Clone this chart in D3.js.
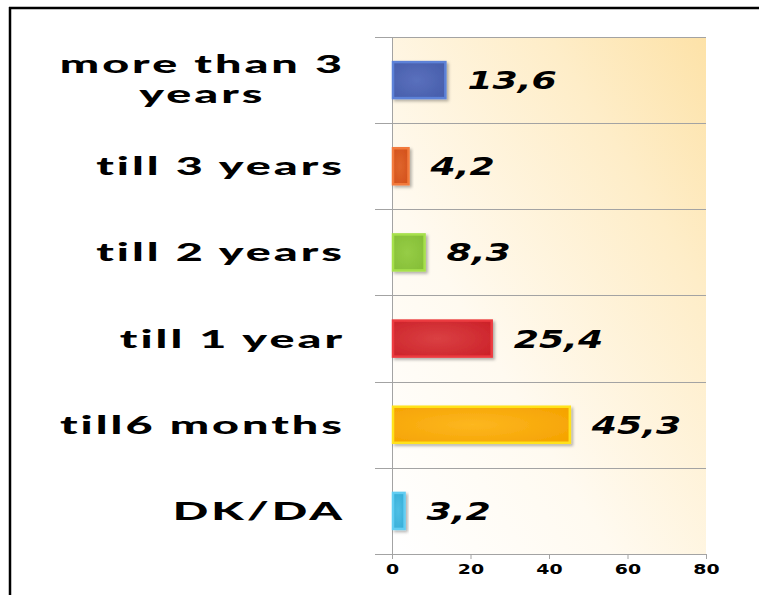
<!DOCTYPE html>
<html>
<head>
<meta charset="utf-8">
<script src="https://cdn.jsdelivr.net/npm/d3@7"></script>
<style>
html,body{margin:0;padding:0;background:#fff;}
svg{display:block;}
</style>
</head>
<body>
<svg id="chart" width="759" height="595"></svg>
<script>
const categories = ["more than 3 years", "till 3 years", "till 2 years", "till 1 year", "till6 months", "DK/DA"];
const categoryLines = [["more than 3", "years"], ["till 3 years"], ["till 2 years"], ["till 1 year"], ["till6 months"], ["DK/DA"]];
const values = [13.6, 4.2, 8.3, 25.4, 45.3, 3.2];
const valueLabels = ["13,6", "4,2", "8,3", "25,4", "45,3", "3,2"];
const xTicks = [0, 20, 40, 60, 80];
const barFill = ["#465daa", "#d24f1a", "#84bd36", "#cc2229", "#f5a200", "#34acd6"];
const barEdge = ["#5d82d8", "#f27a3c", "#a6e04c", "#ec3b3f", "#ffe21a", "#62cdf2"];
const barGlow = ["#5a70bd", "#df652c", "#96cd46", "#da4043", "#fdb720", "#4fbfe5"];

const svg = d3.select("#chart");
const pLeft = 392, pRight = 706, pTop = 37, pBottom = 554;

const x = d3.scaleLinear().domain([0, 80]).range([pLeft, pRight]);
const y = d3.scaleBand().domain(categories).range([pTop, pBottom]).paddingInner(0.582).paddingOuter(0.291);
const step = y.step();

const defs = svg.append("defs");
const bg = defs.append("linearGradient").attr("id", "bg").attr("x1", "0").attr("y1", "1").attr("x2", "1").attr("y2", "0");
bg.append("stop").attr("offset", "0").attr("stop-color", "#ffffff");
bg.append("stop").attr("offset", "0.35").attr("stop-color", "#fffaf0");
bg.append("stop").attr("offset", "0.75").attr("stop-color", "#feedc8");
bg.append("stop").attr("offset", "1").attr("stop-color", "#fde2a8");

const sh = defs.append("filter").attr("id", "shadow").attr("x", "-20%").attr("y", "-30%").attr("width", "150%").attr("height", "170%");
sh.append("feDropShadow").attr("dx", 2).attr("dy", 2).attr("stdDeviation", 1.6).attr("flood-color", "#000").attr("flood-opacity", 0.3);

categories.forEach((c, i) => {
  const g = defs.append("radialGradient").attr("id", "bar" + i).attr("cx", "0.45").attr("cy", "0.5").attr("r", "0.7");
  g.append("stop").attr("offset", "0").attr("stop-color", barGlow[i]);
  g.append("stop").attr("offset", "1").attr("stop-color", barFill[i]);
});

// Outer frame
svg.append("line").attr("x1", 9).attr("x2", 759).attr("y1", 8).attr("y2", 8).attr("stroke", "#000").attr("stroke-width", 2.5);
svg.append("line").attr("x1", 10).attr("x2", 10).attr("y1", 7).attr("y2", 595).attr("stroke", "#000").attr("stroke-width", 2.5);

// Plot background
svg.append("rect").attr("x", pLeft).attr("y", pTop).attr("width", pRight - pLeft).attr("height", pBottom - pTop).attr("fill", "url(#bg)");

// Horizontal grid lines at band boundaries
const bounds = categories.map(c => y(c) - (step - y.bandwidth()) / 2);
bounds.push(pBottom);
svg.append("g").selectAll("line").data(bounds).join("line")
  .attr("x1", pLeft - 17).attr("x2", pRight)
  .attr("y1", d => Math.round(d) + 0.5).attr("y2", d => Math.round(d) + 0.5)
  .attr("stroke", "#a3a3a3").attr("stroke-width", 1);

// x axis
const xAxis = svg.append("g").attr("transform", `translate(0,${pBottom})`)
  .call(d3.axisBottom(x).tickValues(xTicks).tickSize(5).tickFormat(d3.format("d")));
xAxis.select(".domain").remove();
xAxis.selectAll(".tick line").attr("stroke", "#a3a3a3");
xAxis.selectAll(".tick text")
  .attr("transform", "translate(0,10) scale(1.35,1)").attr("y", 0).attr("dy", "0.71em")
  .attr("font-family", "DejaVu Sans").attr("font-weight", "bold").attr("font-size", 14).attr("fill", "#000");

// y axis line
svg.append("line").attr("x1", pLeft + 0.5).attr("x2", pLeft + 0.5).attr("y1", pTop).attr("y2", pBottom + 5)
  .attr("stroke", "#a3a3a3").attr("stroke-width", 1);

// Bars
svg.append("g").selectAll("rect.bar").data(values).join("rect").attr("class", "bar")
  .attr("x", x(0) + 1)
  .attr("y", (d, i) => y(categories[i]))
  .attr("width", d => x(d) - x(0) - 1)
  .attr("height", y.bandwidth())
  .attr("fill", (d, i) => `url(#bar${i})`)
  .attr("stroke", (d, i) => barEdge[i])
  .attr("stroke-width", 2.5)
  .attr("filter", "url(#shadow)");

// Value labels
svg.append("g").selectAll("g").data(values).join("g")
  .attr("transform", (d, i) => `translate(${x(d) + 22},${y(categories[i]) + y.bandwidth() / 2})`)
  .append("text")
  .attr("transform", "scale(1.45,1)")
  .attr("dy", "0.36em")
  .attr("font-family", "DejaVu Sans").attr("font-weight", "bold").attr("font-style", "italic")
  .attr("font-size", 25).attr("fill", "#000")
  .text((d, i) => valueLabels[i]);

// Category labels
const labelRight = 342, catScale = 1.87, catSpacing = 1.6;
categories.forEach((c, i) => {
  const cy = y(c) + y.bandwidth() / 2;
  const lines = categoryLines[i];
  const g = svg.append("g").attr("transform", `translate(${labelRight + catSpacing * catScale},${cy})`);
  const t = g.append("text").attr("transform", `scale(${catScale},1)`)
    .attr("font-family", "Lato").attr("font-weight", 900).attr("font-size", 25).attr("fill", "#000")
    .attr("letter-spacing", catSpacing)
    .attr("text-anchor", "middle").style("white-space", "pre");
  if (lines.length === 1) {
    t.attr("text-anchor", "end").attr("y", 9).text(lines[0]);
  } else {
    const sp1 = t.append("tspan").attr("y", -7).text(lines[0]);
    const w = sp1.node().getComputedTextLength();
    sp1.attr("x", -w / 2);
    t.append("tspan").attr("x", -w / 2).attr("y", 23).text(lines[1]);
  }
});
</script>
</body>
</html>
